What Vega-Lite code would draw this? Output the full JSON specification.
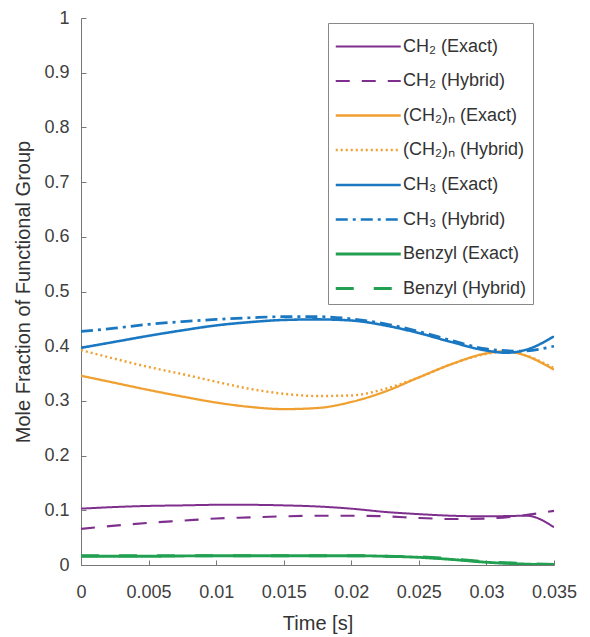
{
  "$schema": "https://vega.github.io/schema/vega-lite/v6.json",
  "autosize": "none",
  "width": 473,
  "height": 547,
  "padding": {"left": 81, "top": 18, "right": 36, "bottom": 72},
  "background": "white",
  "config": {
    "view": {"stroke": null},
    "font": "Liberation Sans",
    "axis": {"grid": false, "labelFlush": false, "domainColor": "#777", "tickColor": "#777", "labelColor": "#404040", "titleColor": "#333", "labelFontSize": 18, "titleFontSize": 20, "titleFontWeight": "normal", "labelFont": "Liberation Sans", "titleFont": "Liberation Sans"}
  },
  "datasets": {
    "d": [
      {"t": 0, "v": 0.103, "s": "CH₂ (Exact)"},
      {"t": 0.0025, "v": 0.106, "s": "CH₂ (Exact)"},
      {"t": 0.005, "v": 0.108, "s": "CH₂ (Exact)"},
      {"t": 0.0075, "v": 0.109, "s": "CH₂ (Exact)"},
      {"t": 0.01, "v": 0.11, "s": "CH₂ (Exact)"},
      {"t": 0.0125, "v": 0.11, "s": "CH₂ (Exact)"},
      {"t": 0.015, "v": 0.109, "s": "CH₂ (Exact)"},
      {"t": 0.0175, "v": 0.107, "s": "CH₂ (Exact)"},
      {"t": 0.02, "v": 0.103, "s": "CH₂ (Exact)"},
      {"t": 0.0225, "v": 0.097, "s": "CH₂ (Exact)"},
      {"t": 0.025, "v": 0.093, "s": "CH₂ (Exact)"},
      {"t": 0.0275, "v": 0.09, "s": "CH₂ (Exact)"},
      {"t": 0.03, "v": 0.089, "s": "CH₂ (Exact)"},
      {"t": 0.033, "v": 0.09, "s": "CH₂ (Exact)"},
      {"t": 0.035, "v": 0.069, "s": "CH₂ (Exact)"},

      {"t": 0, "v": 0.066, "s": "CH₂ (Hybrid)"},
      {"t": 0.0025, "v": 0.072, "s": "CH₂ (Hybrid)"},
      {"t": 0.005, "v": 0.077, "s": "CH₂ (Hybrid)"},
      {"t": 0.0075, "v": 0.081, "s": "CH₂ (Hybrid)"},
      {"t": 0.01, "v": 0.085, "s": "CH₂ (Hybrid)"},
      {"t": 0.0125, "v": 0.087, "s": "CH₂ (Hybrid)"},
      {"t": 0.015, "v": 0.089, "s": "CH₂ (Hybrid)"},
      {"t": 0.0175, "v": 0.09, "s": "CH₂ (Hybrid)"},
      {"t": 0.02, "v": 0.09, "s": "CH₂ (Hybrid)"},
      {"t": 0.0225, "v": 0.089, "s": "CH₂ (Hybrid)"},
      {"t": 0.025, "v": 0.086, "s": "CH₂ (Hybrid)"},
      {"t": 0.0275, "v": 0.084, "s": "CH₂ (Hybrid)"},
      {"t": 0.03, "v": 0.085, "s": "CH₂ (Hybrid)"},
      {"t": 0.0325, "v": 0.09, "s": "CH₂ (Hybrid)"},
      {"t": 0.035, "v": 0.099, "s": "CH₂ (Hybrid)"},

      {"t": 0, "v": 0.346, "s": "(CH₂)ₙ (Exact)"},
      {"t": 0.0025, "v": 0.333, "s": "(CH₂)ₙ (Exact)"},
      {"t": 0.005, "v": 0.32, "s": "(CH₂)ₙ (Exact)"},
      {"t": 0.0075, "v": 0.308, "s": "(CH₂)ₙ (Exact)"},
      {"t": 0.01, "v": 0.297, "s": "(CH₂)ₙ (Exact)"},
      {"t": 0.0125, "v": 0.289, "s": "(CH₂)ₙ (Exact)"},
      {"t": 0.015, "v": 0.285, "s": "(CH₂)ₙ (Exact)"},
      {"t": 0.0175, "v": 0.287, "s": "(CH₂)ₙ (Exact)"},
      {"t": 0.02, "v": 0.298, "s": "(CH₂)ₙ (Exact)"},
      {"t": 0.0225, "v": 0.317, "s": "(CH₂)ₙ (Exact)"},
      {"t": 0.025, "v": 0.343, "s": "(CH₂)ₙ (Exact)"},
      {"t": 0.0275, "v": 0.368, "s": "(CH₂)ₙ (Exact)"},
      {"t": 0.03, "v": 0.387, "s": "(CH₂)ₙ (Exact)"},
      {"t": 0.0315, "v": 0.391, "s": "(CH₂)ₙ (Exact)"},
      {"t": 0.0325, "v": 0.386, "s": "(CH₂)ₙ (Exact)"},
      {"t": 0.035, "v": 0.357, "s": "(CH₂)ₙ (Exact)"},

      {"t": 0, "v": 0.393, "s": "(CH₂)ₙ (Hybrid)"},
      {"t": 0.0025, "v": 0.377, "s": "(CH₂)ₙ (Hybrid)"},
      {"t": 0.005, "v": 0.362, "s": "(CH₂)ₙ (Hybrid)"},
      {"t": 0.0075, "v": 0.349, "s": "(CH₂)ₙ (Hybrid)"},
      {"t": 0.01, "v": 0.335, "s": "(CH₂)ₙ (Hybrid)"},
      {"t": 0.0125, "v": 0.322, "s": "(CH₂)ₙ (Hybrid)"},
      {"t": 0.015, "v": 0.313, "s": "(CH₂)ₙ (Hybrid)"},
      {"t": 0.0175, "v": 0.309, "s": "(CH₂)ₙ (Hybrid)"},
      {"t": 0.02, "v": 0.31, "s": "(CH₂)ₙ (Hybrid)"},
      {"t": 0.0225, "v": 0.322, "s": "(CH₂)ₙ (Hybrid)"},
      {"t": 0.025, "v": 0.343, "s": "(CH₂)ₙ (Hybrid)"},
      {"t": 0.0275, "v": 0.368, "s": "(CH₂)ₙ (Hybrid)"},
      {"t": 0.03, "v": 0.386, "s": "(CH₂)ₙ (Hybrid)"},
      {"t": 0.0315, "v": 0.39, "s": "(CH₂)ₙ (Hybrid)"},
      {"t": 0.0325, "v": 0.386, "s": "(CH₂)ₙ (Hybrid)"},
      {"t": 0.035, "v": 0.36, "s": "(CH₂)ₙ (Hybrid)"},

      {"t": 0, "v": 0.397, "s": "CH₃ (Exact)"},
      {"t": 0.0025, "v": 0.408, "s": "CH₃ (Exact)"},
      {"t": 0.005, "v": 0.419, "s": "CH₃ (Exact)"},
      {"t": 0.0075, "v": 0.429, "s": "CH₃ (Exact)"},
      {"t": 0.01, "v": 0.438, "s": "CH₃ (Exact)"},
      {"t": 0.0125, "v": 0.444, "s": "CH₃ (Exact)"},
      {"t": 0.015, "v": 0.448, "s": "CH₃ (Exact)"},
      {"t": 0.0175, "v": 0.449, "s": "CH₃ (Exact)"},
      {"t": 0.02, "v": 0.447, "s": "CH₃ (Exact)"},
      {"t": 0.0225, "v": 0.438, "s": "CH₃ (Exact)"},
      {"t": 0.025, "v": 0.424, "s": "CH₃ (Exact)"},
      {"t": 0.0275, "v": 0.407, "s": "CH₃ (Exact)"},
      {"t": 0.03, "v": 0.392, "s": "CH₃ (Exact)"},
      {"t": 0.0315, "v": 0.388, "s": "CH₃ (Exact)"},
      {"t": 0.033, "v": 0.394, "s": "CH₃ (Exact)"},
      {"t": 0.035, "v": 0.418, "s": "CH₃ (Exact)"},

      {"t": 0, "v": 0.427, "s": "CH₃ (Hybrid)"},
      {"t": 0.0025, "v": 0.433, "s": "CH₃ (Hybrid)"},
      {"t": 0.005, "v": 0.44, "s": "CH₃ (Hybrid)"},
      {"t": 0.0075, "v": 0.445, "s": "CH₃ (Hybrid)"},
      {"t": 0.01, "v": 0.449, "s": "CH₃ (Hybrid)"},
      {"t": 0.0125, "v": 0.452, "s": "CH₃ (Hybrid)"},
      {"t": 0.015, "v": 0.454, "s": "CH₃ (Hybrid)"},
      {"t": 0.0175, "v": 0.454, "s": "CH₃ (Hybrid)"},
      {"t": 0.02, "v": 0.45, "s": "CH₃ (Hybrid)"},
      {"t": 0.0225, "v": 0.441, "s": "CH₃ (Hybrid)"},
      {"t": 0.025, "v": 0.427, "s": "CH₃ (Hybrid)"},
      {"t": 0.0275, "v": 0.41, "s": "CH₃ (Hybrid)"},
      {"t": 0.03, "v": 0.395, "s": "CH₃ (Hybrid)"},
      {"t": 0.0325, "v": 0.391, "s": "CH₃ (Hybrid)"},
      {"t": 0.035, "v": 0.4, "s": "CH₃ (Hybrid)"},

      {"t": 0, "v": 0.016, "s": "Benzyl (Exact)"},
      {"t": 0.005, "v": 0.016, "s": "Benzyl (Exact)"},
      {"t": 0.01, "v": 0.017, "s": "Benzyl (Exact)"},
      {"t": 0.015, "v": 0.017, "s": "Benzyl (Exact)"},
      {"t": 0.02, "v": 0.017, "s": "Benzyl (Exact)"},
      {"t": 0.0225, "v": 0.016, "s": "Benzyl (Exact)"},
      {"t": 0.025, "v": 0.014, "s": "Benzyl (Exact)"},
      {"t": 0.0275, "v": 0.01, "s": "Benzyl (Exact)"},
      {"t": 0.03, "v": 0.005, "s": "Benzyl (Exact)"},
      {"t": 0.0325, "v": 0.002, "s": "Benzyl (Exact)"},
      {"t": 0.035, "v": 0.0, "s": "Benzyl (Exact)"},

      {"t": 0, "v": 0.017, "s": "Benzyl (Hybrid)"},
      {"t": 0.005, "v": 0.017, "s": "Benzyl (Hybrid)"},
      {"t": 0.01, "v": 0.017, "s": "Benzyl (Hybrid)"},
      {"t": 0.015, "v": 0.017, "s": "Benzyl (Hybrid)"},
      {"t": 0.02, "v": 0.017, "s": "Benzyl (Hybrid)"},
      {"t": 0.0225, "v": 0.016, "s": "Benzyl (Hybrid)"},
      {"t": 0.025, "v": 0.015, "s": "Benzyl (Hybrid)"},
      {"t": 0.0275, "v": 0.011, "s": "Benzyl (Hybrid)"},
      {"t": 0.03, "v": 0.006, "s": "Benzyl (Hybrid)"},
      {"t": 0.0325, "v": 0.003, "s": "Benzyl (Hybrid)"},
      {"t": 0.035, "v": 0.001, "s": "Benzyl (Hybrid)"}
    ]
  },
  "data": {"name": "d"},
  "mark": {"type": "line", "interpolate": "monotone", "clip": true},
  "encoding": {
    "x": {"field": "t", "type": "quantitative", "title": "Time [s]",
      "scale": {"domain": [0, 0.035], "nice": false},
      "axis": {"values": [0, 0.005, 0.01, 0.015, 0.02, 0.025, 0.03, 0.035], "format": "~g", "tickSize": -5, "labelPadding": 23, "titlePadding": 12, "labelFlush": false, "labelOverlap": false}},
    "y": {"field": "v", "type": "quantitative", "title": "Mole Fraction of Functional Group",
      "scale": {"domain": [0, 1], "nice": false},
      "axis": {"values": [0, 0.1, 0.2, 0.3, 0.4, 0.5, 0.6, 0.7, 0.8, 0.9, 1], "format": "~g", "tickSize": -5, "labelPadding": 17, "titlePadding": 10, "labelFlush": false, "labelOverlap": false}},
    "color": {"field": "s", "type": "nominal",
      "scale": {
        "domain": ["CH₂ (Exact)", "CH₂ (Hybrid)", "(CH₂)ₙ (Exact)", "(CH₂)ₙ (Hybrid)", "CH₃ (Exact)", "CH₃ (Hybrid)", "Benzyl (Exact)", "Benzyl (Hybrid)"],
        "range": ["#7E2F8E", "#7E2F8E", "#F0A030", "#F0A030", "#1A78C2", "#1A78C2", "#22A052", "#22A052"]
      },
      "legend": {
        "title": null, "orient": "none", "legendX": 247, "legendY": 5,
        "symbolType": "M-1,0H3", "symbolSize": 1056,
        "labelFontSize": 18, "labelColor": "#333", "labelFont": "Liberation Sans", "labelOffset": 33,
        "labelExpr": "datum.label + '\u00a0\u00a0\u00a0\u00a0\u00a0'",
        "rowPadding": 7.5, "padding": 6, "strokeColor": "#888", "fillColor": "white", "labelLimit": 250
      }
    },
    "strokeDash": {"field": "s", "type": "nominal",
      "scale": {
        "domain": ["CH₂ (Exact)", "CH₂ (Hybrid)", "(CH₂)ₙ (Exact)", "(CH₂)ₙ (Hybrid)", "CH₃ (Exact)", "CH₃ (Hybrid)", "Benzyl (Exact)", "Benzyl (Hybrid)"],
        "range": [[1, 0], [14, 12], [1, 0], [2, 3], [1, 0], [12, 5, 3, 5], [1, 0], [18, 20]]
      }
    },
    "strokeWidth": {"field": "s", "type": "nominal",
      "scale": {
        "domain": ["CH₂ (Exact)", "CH₂ (Hybrid)", "(CH₂)ₙ (Exact)", "(CH₂)ₙ (Hybrid)", "CH₃ (Exact)", "CH₃ (Hybrid)", "Benzyl (Exact)", "Benzyl (Hybrid)"],
        "range": [2, 3, 2, 2.5, 2, 3, 2, 4]
      }
    }
  }
}
